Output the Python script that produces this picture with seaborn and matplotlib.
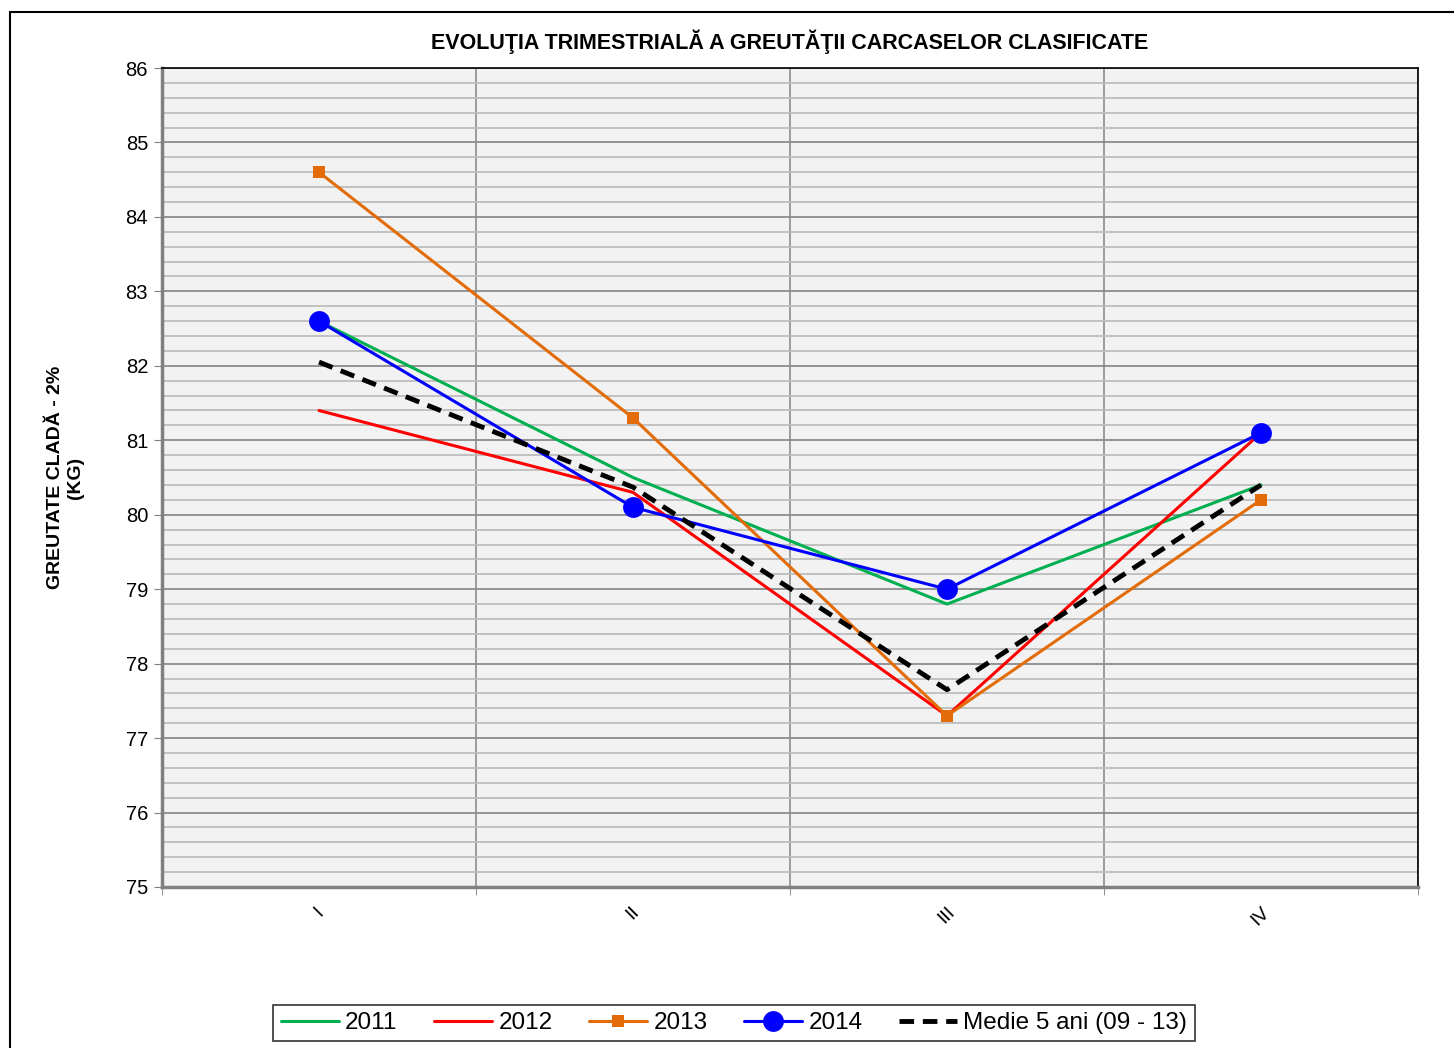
import numpy as np
import pandas as pd
import matplotlib.pyplot as plt
import seaborn as sns
from matplotlib.ticker import MultipleLocator, FixedLocator
from matplotlib.patches import Rectangle

quarters = ['I', 'II', 'III', 'IV']
y2011 = [82.6, 80.5, 78.8, 80.4]
y2012 = [81.4, 80.3, 77.3, 81.1]
y2013 = [84.6, 81.3, 77.3, 80.2]
y2014 = [82.6, 80.1, 79.0, 81.1]
medie = [82.05, 80.37, 77.65, 80.4]

series = ['2011', '2012', '2013', '2014', 'Medie 5 ani (09 - 13)']
values = [y2011, y2012, y2013, y2014, medie]

df = pd.DataFrame({
    'serie': np.repeat(series, len(quarters)),
    'pos': np.tile(np.arange(len(quarters)), len(series)),
    'val': np.concatenate(values),
})

sns.set_style('white')
plt.rcParams['font.family'] = ['Liberation Sans', 'DejaVu Sans']
plt.rcParams['text.color'] = 'black'
plt.rcParams['axes.labelcolor'] = 'black'
plt.rcParams['xtick.color'] = 'black'
plt.rcParams['ytick.color'] = 'black'

fig = plt.figure(figsize=(14.54, 10.48), dpi=100)
ax = fig.add_axes([162 / 1454, 1 - 887 / 1048, (1418 - 162) / 1454, (887 - 68) / 1048])
ax.set_facecolor('#F2F2F2')

styles = {
    '2011': dict(color='#00B050', lw=2.2, marker=None, ls='-'),
    '2012': dict(color='#FF0000', lw=2.2, marker=None, ls='-'),
    '2013': dict(color='#E36C09', lw=2.2, marker='s', ms=9, ls='-'),
    '2014': dict(color='#0000FF', lw=2.2, marker='o', ms=15, ls='-'),
    'Medie 5 ani (09 - 13)': dict(color='black', lw=3.5, marker=None, ls=(0, (3, 1.8))),
}

for s in series:
    st = styles[s]
    d = df[df['serie'] == s]
    kw = dict(color=st['color'], linewidth=st['lw'], linestyle=st['ls'], label=s, zorder=3)
    if st['marker']:
        kw.update(marker=st['marker'], markersize=st['ms'], markeredgewidth=0)
    sns.lineplot(data=d, x='pos', y='val', ax=ax, **kw)

ax.set_xlim(-0.5, 3.5)
ax.set_ylim(75, 86)
ax.yaxis.set_major_locator(MultipleLocator(1))
ax.yaxis.set_minor_locator(MultipleLocator(0.2))
ax.set_xticks(range(4))
ax.set_xticklabels(quarters, rotation=45, fontsize=14)
ax.xaxis.set_minor_locator(FixedLocator([-0.5, 0.5, 1.5, 2.5, 3.5]))
ax.tick_params(axis='x', which='major', length=0, pad=12)
ax.tick_params(axis='x', which='minor', length=6, color='#808080', direction='out', bottom=True)
ax.tick_params(axis='y', which='major', length=6, color='#808080', direction='out', left=True,
               labelsize=14.5, pad=4)
ax.tick_params(axis='y', which='minor', length=0)

ax.grid(axis='y', which='major', color='#8C8C8C', lw=1.3, zorder=0)
ax.grid(axis='y', which='minor', color='#BDBDBD', lw=1.3, zorder=0)
ax.grid(axis='x', which='minor', color='#8C8C8C', lw=1.2, zorder=0)
ax.grid(axis='x', which='major', visible=False)
ax.set_axisbelow(True)

for side in ['left', 'bottom']:
    ax.spines[side].set_color('#808080')
    ax.spines[side].set_linewidth(2.5)
for side in ['top', 'right']:
    ax.spines[side].set_color('black')
    ax.spines[side].set_linewidth(1.2)

ax.set_xlabel('')
ax.set_ylabel('GREUTATE CLADĂ - 2%\n(KG)', fontsize=14, fontweight='bold', labelpad=30)
ax.set_title('EVOLUŢIA TRIMESTRIALĂ A GREUTĂŢII CARCASELOR CLASIFICATE',
             fontsize=15.5, fontweight='bold', pad=14)

leg = ax.legend(loc='center', bbox_to_anchor=(734 / 1454, 1 - 1023 / 1048),
                bbox_transform=fig.transFigure, ncol=5, fontsize=17.5,
                frameon=True, fancybox=False, handlelength=2.4, handletextpad=0.25,
                columnspacing=1.5, borderpad=0.3)
leg.get_frame().set_edgecolor('black')
leg.get_frame().set_linewidth(1.2)

fig.patches.append(Rectangle((10 / 1454, -0.01), 1.02, 1 - 12 / 1048 + 0.01,
                             transform=fig.transFigure, fill=False,
                             edgecolor='black', lw=1.5))

fig.savefig('out.png', dpi=100)
